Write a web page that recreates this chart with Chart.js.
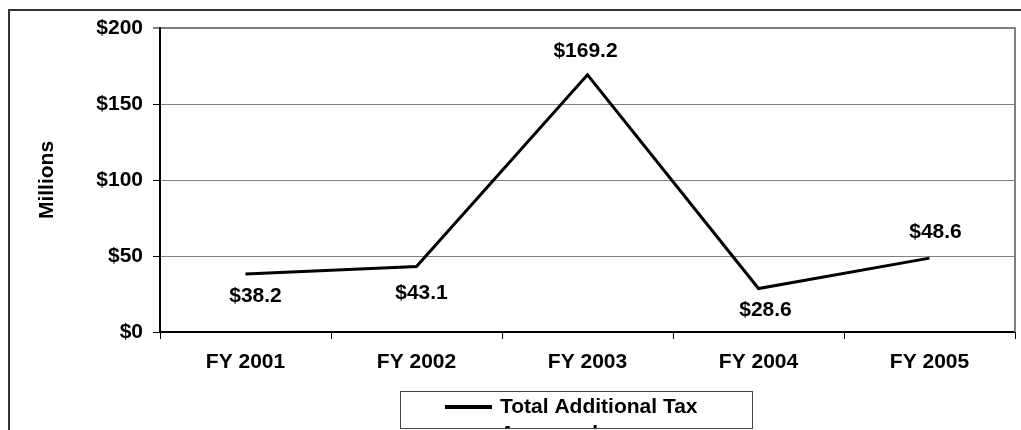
<!DOCTYPE html>
<html>
<head>
<meta charset="utf-8">
<script src="https://cdn.jsdelivr.net/npm/chart.js@4.4.1/dist/chart.umd.min.js"></script>
<style>
html,body{margin:0;padding:0;background:#fff;overflow:hidden;}
#wrap{position:relative;width:1021px;height:430px;overflow:hidden;}
#frame{position:absolute;left:8px;top:9px;width:2000px;height:2000px;border:2px solid #333;box-sizing:border-box;}
#chart{position:absolute;left:0;top:0;}
</style>
</head>
<body>
<div id="wrap">
<div id="frame"></div>
<canvas id="chart" width="1021" height="430"></canvas>
</div>
<script>
const years = ["FY 2001","FY 2002","FY 2003","FY 2004","FY 2005"];
const taxValues = [38.2, 43.1, 169.2, 28.6, 48.6];
const seriesName = "Total Additional Tax Assessed";
const yTicks = [0, 50, 100, 150, 200];

// where each value label sits relative to its point (px)
const labelDx = [10, 5, -2, 7, 6];
const labelDy = [21, 25, -25, 20, -28];

const FONT = "'Liberation Sans', Arial, sans-serif";

// ---------- value labels ----------
const valueLabels = {
id:"valueLabels",
afterDatasetsDraw(chart){
const ctx = chart.ctx;
const meta = chart.getDatasetMeta(0);
ctx.save();
ctx.font = "bold 21px " + FONT;
ctx.fillStyle = "#000";
ctx.textAlign = "center";
ctx.textBaseline = "alphabetic";
meta.data.forEach((pt,i)=>{
const v = chart.data.datasets[0].data[i];
ctx.fillText("$" + v.toFixed(1), pt.x + labelDx[i], pt.y + labelDy[i] + 7.5);
});
ctx.restore();
}
};

// ---------- right border + legend box ----------
const frameAndLegend = {
id:"frameAndLegend",
afterDraw(chart){
const ctx = chart.ctx;
const a = chart.chartArea;
ctx.save();
ctx.strokeStyle = "#808080";
ctx.lineWidth = 2;
ctx.beginPath();
ctx.moveTo(a.right, a.top - 1);
ctx.lineTo(a.right, a.bottom);
ctx.stroke();

// legend
const bx = 400, by = 391, bw = 352, bh = 37;
ctx.fillStyle = "#fff";
ctx.fillRect(bx, by, bw, bh);
ctx.strokeStyle = "#444";
ctx.lineWidth = 1;
ctx.strokeRect(bx + 0.5, by + 0.5, bw, bh);

const ds = chart.data.datasets[0];
ctx.strokeStyle = ds.borderColor;
ctx.lineWidth = 4;
ctx.beginPath();
ctx.moveTo(445, 407);
ctx.lineTo(492, 407);
ctx.stroke();

// the label wraps; its second line is cut off by the box
ctx.beginPath();
ctx.rect(bx + 1, by + 1, bw - 1, bh - 1);
ctx.clip();
ctx.fillStyle = "#000";
ctx.font = "bold 21px " + FONT;
ctx.textAlign = "left";
ctx.textBaseline = "alphabetic";
const words = ds.label.split(" ");
ctx.fillText(words.slice(0,3).join(" "), 500, 413);
ctx.fillText(words.slice(3).join(" "), 500, 440);
ctx.restore();
}
};

const ctx = document.getElementById("chart").getContext("2d");

const chart = new Chart(ctx,{
type:"line",
data:{
labels:years,
datasets:[
{
label:seriesName,
data:taxValues,
borderColor:"#000",
borderWidth:3,
pointRadius:0,
tension:0,
fill:false
}
]
},
options:{
responsive:false,
animation:false,
layout:{padding:{top:28,right:6,bottom:0,left:0}},
plugins:{
legend:{display:false},
tooltip:{enabled:false}
},
scales:{
x:{
offset:true,
grid:{
display:true,
offset:true,
drawOnChartArea:false,
drawTicks:true,
tickLength:7,
tickColor:"#000",
tickWidth:1
},
border:{color:"#000",width:2},
ticks:{
color:"#000",
padding:11,
maxRotation:0,
font:{family:FONT,size:21,weight:"bold"}
},
afterFit(s){ s.height = 98; }
},
y:{
min:0,
max:200,
afterBuildTicks(s){ s.ticks = yTicks.map(v=>({value:v})); },
grid:{
color:"#808080",
lineWidth:(c)=> c.tick && c.tick.value===200 ? 2 : 1,
tickLength:7,
tickColor:"#000",
tickWidth:1
},
border:{color:"#000",width:2},
ticks:{
color:"#000",
padding:10,
font:{family:FONT,size:21,weight:"bold"},
callback:(v)=>"$" + v
},
title:{
display:true,
text:"Millions",
color:"#000",
padding:{top:35,bottom:0},
font:{family:FONT,size:21,weight:"bold"}
},
afterFit(s){ s.width = 160; }
}
}
},
plugins:[valueLabels, frameAndLegend]
});
</script>
</body>
</html>
